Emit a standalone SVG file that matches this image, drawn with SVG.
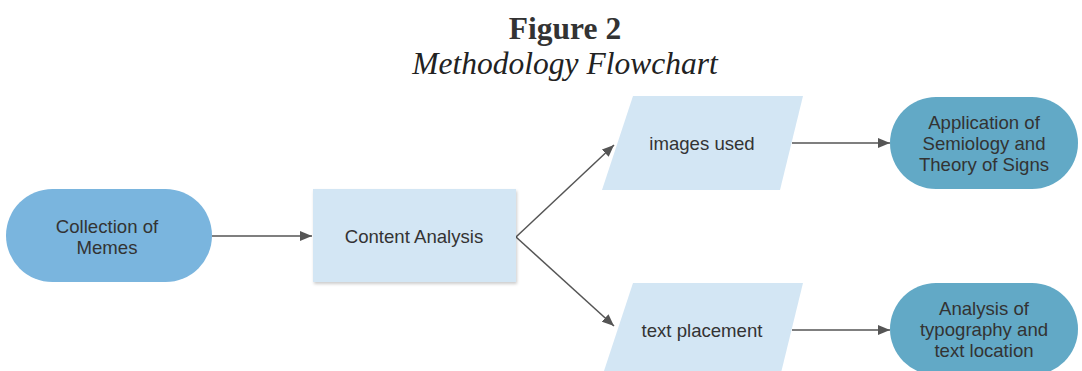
<svg xmlns="http://www.w3.org/2000/svg" width="1082" height="371" viewBox="0 0 1082 371">
<style>
.t{font-family:"Liberation Sans",Arial,sans-serif;font-size:18.6px;fill:#333;text-anchor:middle}
.c{stroke:#555;stroke-width:1.5;fill:none;marker-end:url(#ah)}
</style>
<defs>
<marker id="ah" viewBox="0 0 12 10" refX="12" refY="5" markerWidth="12" markerHeight="10" markerUnits="userSpaceOnUse" orient="auto">
<path d="M0,0 L12,5 L0,10 z" fill="#555"/>
</marker>
<filter id="sh" x="-10%" y="-10%" width="120%" height="125%">
<feDropShadow dx="1" dy="2" stdDeviation="1.5" flood-color="#000" flood-opacity="0.2"/>
</filter>
</defs>
<rect width="1082" height="371" fill="#fff"/>
<g id="title">
<text x="565" y="39" font-family="Liberation Serif,serif" font-weight="bold" font-size="31.5" fill="#333" text-anchor="middle">Figure 2</text>
<text x="565" y="74" font-family="Liberation Serif,serif" font-style="italic" font-size="31.5" fill="#222" text-anchor="middle">Methodology Flowchart</text>
</g>
<g id="connectors">
<line class="c" x1="212" y1="236" x2="312" y2="236"/>
<line class="c" x1="516" y1="237" x2="614" y2="145"/>
<line class="c" x1="516" y1="237" x2="614" y2="326"/>
<line class="c" x1="792" y1="143" x2="890" y2="143"/>
<line class="c" x1="792" y1="330" x2="890" y2="330"/>
</g>
<g id="collection">
<rect x="6" y="189" width="206" height="93" rx="46.5" fill="#7ab5de"/>
<text class="t" x="107" y="233">Collection of</text>
<text class="t" x="107" y="254">Memes</text>
</g>
<g id="content">
<rect x="313" y="189" width="203" height="93" fill="#d3e6f4" filter="url(#sh)"/>
<text class="t" x="414" y="243">Content Analysis</text>
</g>
<g id="images">
<polygon points="633,96 803,96 780,190 602,190" fill="#d3e6f4"/>
<text class="t" x="702" y="150">images used</text>
</g>
<g id="textplacement">
<polygon points="633,283 803,283 780,377 602,377" fill="#d3e6f4"/>
<text class="t" x="702" y="337">text placement</text>
</g>
<g id="semiology">
<rect x="890" y="97" width="188" height="92" rx="46" fill="#62a9c6"/>
<text class="t" x="984" y="129">Application of</text>
<text class="t" x="984" y="150">Semiology and</text>
<text class="t" x="984" y="171">Theory of Signs</text>
</g>
<g id="typography">
<rect x="890" y="283" width="188" height="92" rx="46" fill="#62a9c6"/>
<text class="t" x="984" y="315">Analysis of</text>
<text class="t" x="984" y="336">typography and</text>
<text class="t" x="984" y="357">text location</text>
</g>
</svg>
